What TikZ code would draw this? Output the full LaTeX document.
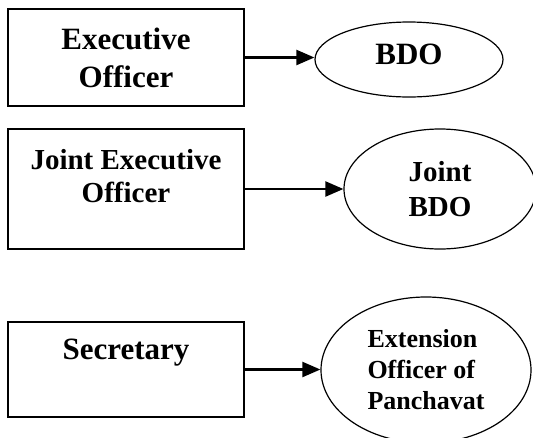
\documentclass[tikz,border=0pt]{standalone}
\usepackage{fontspec}
\setmainfont{Liberation Serif}
\usetikzlibrary{shapes.geometric, arrows.meta}

\tikzset{
  post/.style={draw, line width=1.6pt, inner sep=0pt, minimum width=236pt, align=center, font=\bfseries},
  office/.style={draw, ellipse, line width=1.2pt, inner sep=0pt, font=\bfseries},
  arr/.style={line width=2.2pt, -{Triangle[length=18pt, width=15pt]}}
}

\begin{document}
\begin{tikzpicture}[x=1pt, y=-1pt]
  \useasboundingbox (0,0) rectangle (533,437);
  \clip (0,0) rectangle (533,437);

  \node[post, minimum height=97pt, font=\bfseries\fontsize{31}{38}\selectfont]
    (eo) at (126,57.5) {Executive\\Officer};
  \node[post, minimum height=120pt, text depth=27pt, font=\bfseries\fontsize{29}{33}\selectfont]
    (jeo) at (126,189) {Joint Executive\\Officer};
  \node[post, minimum height=95pt, text height=21pt, text depth=41pt, font=\bfseries\fontsize{31}{38}\selectfont]
    (sec) at (126,369.5) {Secretary};

  \node[office, minimum width=188pt, minimum height=75pt, text height=21pt, text depth=12pt,
    font=\bfseries\fontsize{31}{38}\selectfont] (bdo) at (409,59.5) {BDO};
  \node[office, minimum width=192pt, minimum height=120pt, align=center,
    font=\bfseries\fontsize{29}{35}\selectfont] (jbdo) at (440,189) {Joint\\BDO};
  \node[office, minimum width=210pt, minimum height=146pt, align=left,
    font=\bfseries\fontsize{26}{31}\selectfont] (ext) at (426,370) {Extension\\Officer of\\Panchavat};

  \draw[arr] (eo.east) -- (eo.east -| bdo.west);
  \draw[arr] (jeo.east) -- (jeo.east -| jbdo.west);
  \draw[arr] (sec.east) -- (sec.east -| ext.west);
\end{tikzpicture}
\end{document}
